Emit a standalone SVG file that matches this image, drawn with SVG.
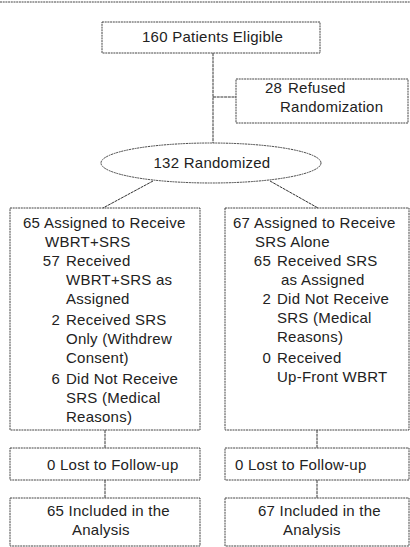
<svg xmlns="http://www.w3.org/2000/svg" width="410" height="547" viewBox="0 0 410 547">
<style>
.b{fill:none;stroke:#444;stroke-width:1;stroke-dasharray:2 0.7}
.c{fill:none;stroke:#333;stroke-width:1;stroke-dasharray:3 0.7}
text{font-family:"Liberation Sans",Arial,sans-serif;font-size:15px;fill:#222;letter-spacing:0.25px}
.e{text-anchor:end}
.m{text-anchor:middle}
</style>
<rect width="410" height="547" fill="#fff"/>
<line x1="0" y1="2" x2="410" y2="2" class="b" stroke="#777"/>
<g id="connectors">
<line x1="213" y1="53" x2="213" y2="143" class="c"/>
<line x1="213" y1="97" x2="236" y2="97" class="c"/>
<line x1="153" y1="181" x2="103" y2="208" class="c"/>
<line x1="270" y1="181" x2="318" y2="208" class="c"/>
<line x1="105" y1="430" x2="105" y2="448" class="c"/>
<line x1="105" y1="480" x2="105" y2="498" class="c"/>
<line x1="317" y1="430" x2="317" y2="448" class="c"/>
<line x1="317" y1="480" x2="317" y2="498" class="c"/>
</g>
<g id="eligible">
<rect x="102" y="22" width="218" height="31" class="b"/>
<text x="142" y="42">160 Patients Eligible</text>
</g>
<g id="refused">
<rect x="236" y="79" width="172" height="44" class="b"/>
<text x="265" y="93">28</text>
<text x="288" y="93">Refused</text>
<text x="280" y="112">Randomization</text>
</g>
<g id="randomized">
<ellipse cx="211" cy="163" rx="110" ry="20" class="b"/>
<text x="212" y="168" class="m">132 Randomized</text>
</g>
<g id="wbrt-srs">
<rect x="10" y="208" width="190" height="222" class="b"/>
<text x="23" y="228">65</text>
<text x="44" y="228">Assigned to Receive</text>
<text x="45" y="247">WBRT+SRS</text>
<text x="60" y="266" class="e">57</text>
<text x="66" y="266">Received</text>
<text x="66" y="285">WBRT+SRS as</text>
<text x="66" y="304">Assigned</text>
<text x="60" y="325" class="e">2</text>
<text x="66" y="325">Received SRS</text>
<text x="66" y="344">Only (Withdrew</text>
<text x="66" y="363">Consent)</text>
<text x="60" y="384" class="e">6</text>
<text x="66" y="384">Did Not Receive</text>
<text x="66" y="403">SRS (Medical</text>
<text x="66" y="422">Reasons)</text>
</g>
<g id="srs-alone">
<rect x="225" y="208" width="184" height="222" class="b"/>
<text x="233" y="228">67</text>
<text x="254" y="228">Assigned to Receive</text>
<text x="255" y="247">SRS Alone</text>
<text x="271" y="266" class="e">65</text>
<text x="277" y="266">Received SRS</text>
<text x="281" y="285">as Assigned</text>
<text x="271" y="304" class="e">2</text>
<text x="277" y="304">Did Not Receive</text>
<text x="277" y="323">SRS (Medical</text>
<text x="277" y="342">Reasons)</text>
<text x="271" y="363" class="e">0</text>
<text x="277" y="363">Received</text>
<text x="277" y="382">Up-Front WBRT</text>
</g>
<g id="lost-left">
<rect x="10" y="448" width="190" height="32" class="b"/>
<text x="47" y="470">0 Lost to Follow-up</text>
</g>
<g id="lost-right">
<rect x="225" y="448" width="184" height="32" class="b"/>
<text x="235" y="470">0 Lost to Follow-up</text>
</g>
<g id="included-left">
<rect x="10" y="498" width="190" height="48" class="b"/>
<text x="47" y="516">65 Included in the</text>
<text x="72" y="535">Analysis</text>
</g>
<g id="included-right">
<rect x="225" y="498" width="184" height="48" class="b"/>
<text x="258" y="516">67 Included in the</text>
<text x="283" y="535">Analysis</text>
</g>
</svg>
